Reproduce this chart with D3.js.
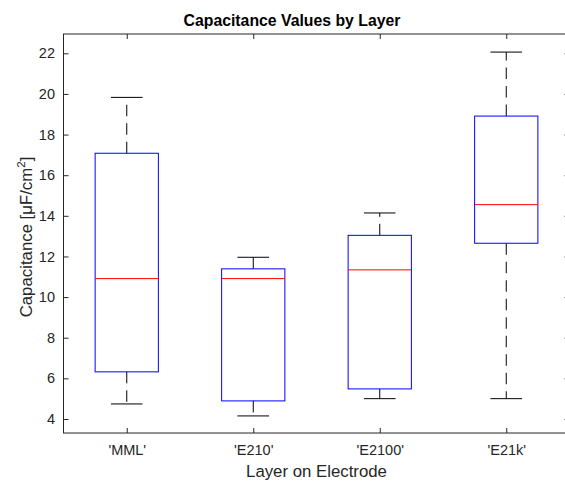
<!DOCTYPE html>
<html>
<head>
<meta charset="utf-8">
<script src="https://cdn.jsdelivr.net/npm/d3@7"></script>
<style>
  body { margin: 0; background: #fff; }
  svg { display: block; font-family: "Liberation Sans", Arial, sans-serif; }
</style>
</head>
<body>
<svg id="chart" width="565" height="482"></svg>
<script>
// box plot stats
var layers      = ["'MML'", "'E210'", "'E2100'", "'E21k'"];
var whiskerLow  = [4.74, 4.15, 5.0, 5.0];
var q1          = [6.32, 4.89, 5.48, 12.65];
var medians     = [10.91, 10.91, 11.34, 14.55];
var q3          = [17.08, 11.39, 13.04, 18.91];
var whiskerHigh = [19.83, 11.96, 14.14, 22.06];
var yTicks      = [4, 6, 8, 10, 12, 14, 16, 18, 20, 22];

var svg = d3.select("#chart"),
    axLeft = 63.5, axRight = 569.5, axTop = 34, axBottom = 433;

var x = d3.scaleLinear().domain([0.5, 4.5]).range([axLeft, axRight]);
var y = d3.scaleLinear().domain([3.31, 22.95]).range([axBottom, axTop]);

var axisColor = "#262626";

var data = layers.map(function(d, i) {
  return { name: d, pos: i + 1, lo: whiskerLow[i], q1: q1[i], med: medians[i], q3: q3[i], hi: whiskerHigh[i] };
});

// axes (ticks pointing inward, MATLAB style)
var gx = svg.append("g")
    .attr("transform", "translate(0," + axBottom + ")")
    .call(d3.axisBottom(x).tickValues([1, 2, 3, 4]).tickSize(-5).tickPadding(12)
      .tickFormat(function(d) { return layers[d - 1]; }));
var gxTop = svg.append("g")
    .attr("transform", "translate(0," + axTop + ")")
    .call(d3.axisTop(x).tickValues([1, 2, 3, 4]).tickSize(-5).tickFormat(""));
var gy = svg.append("g")
    .attr("transform", "translate(" + axLeft + ",0)")
    .call(d3.axisLeft(y).tickValues(yTicks).tickSize(-5).tickPadding(8.5));
var gyRight = svg.append("g")
    .attr("transform", "translate(" + axRight + ",0)")
    .call(d3.axisRight(y).tickValues(yTicks).tickSize(-5).tickFormat(""));

[gx, gxTop, gy, gyRight].forEach(function(g) {
  g.select(".domain").remove();
  g.selectAll(".tick line").attr("stroke", axisColor);
  g.selectAll("text").attr("fill", axisColor).attr("font-size", "14.5px")
    .attr("font-family", "Liberation Sans, Arial, sans-serif");
});

// frame
svg.append("rect")
    .attr("x", axLeft).attr("y", axTop)
    .attr("width", axRight - axLeft).attr("height", axBottom - axTop)
    .attr("fill", "none").attr("stroke", axisColor).attr("stroke-width", 1);

var boxHalf = 0.25, capHalf = 0.125;

var box = svg.append("g").selectAll("g")
  .data(data)
  .enter().append("g");

// whiskers, dashed, drawn from the box edge outward
box.append("line")
    .attr("x1", function(d) { return x(d.pos); })
    .attr("x2", function(d) { return x(d.pos); })
    .attr("y1", function(d) { return y(d.q3); })
    .attr("y2", function(d) { return y(d.hi); })
    .attr("stroke", "#000").attr("stroke-dasharray", "11.5,7");
box.append("line")
    .attr("x1", function(d) { return x(d.pos); })
    .attr("x2", function(d) { return x(d.pos); })
    .attr("y1", function(d) { return y(d.q1); })
    .attr("y2", function(d) { return y(d.lo); })
    .attr("stroke", "#000").attr("stroke-dasharray", "11.5,7");

// caps
["hi", "lo"].forEach(function(k) {
  box.append("line")
      .attr("x1", function(d) { return x(d.pos - capHalf); })
      .attr("x2", function(d) { return x(d.pos + capHalf); })
      .attr("y1", function(d) { return y(d[k]); })
      .attr("y2", function(d) { return y(d[k]); })
      .attr("stroke", "#000");
});

box.append("rect")
    .attr("x", function(d) { return x(d.pos - boxHalf); })
    .attr("width", function(d) { return x(d.pos + boxHalf) - x(d.pos - boxHalf); })
    .attr("y", function(d) { return y(d.q3); })
    .attr("height", function(d) { return y(d.q1) - y(d.q3); })
    .attr("fill", "none").attr("stroke", "#0000ff");

box.append("line")
    .attr("x1", function(d) { return x(d.pos - boxHalf); })
    .attr("x2", function(d) { return x(d.pos + boxHalf); })
    .attr("y1", function(d) { return y(d.med); })
    .attr("y2", function(d) { return y(d.med); })
    .attr("stroke", "#ff0000");

// title and labels
svg.append("text")
    .attr("x", 292).attr("y", 26)
    .attr("text-anchor", "middle")
    .attr("font-size", "15.8px").attr("font-weight", "bold")
    .attr("fill", "#000")
    .text("Capacitance Values by Layer");

svg.append("text")
    .attr("x", (axLeft + axRight) / 2).attr("y", 477)
    .attr("text-anchor", "middle")
    .attr("font-size", "16.8px")
    .attr("fill", axisColor)
    .text("Layer on Electrode");

var yl = svg.append("text")
    .attr("transform", "translate(32,237) rotate(-90)")
    .attr("text-anchor", "middle")
    .attr("font-size", "16.8px")
    .attr("fill", axisColor);
yl.append("tspan").text("Capacitance [\u03bcF/cm");
yl.append("tspan").attr("font-size", "11.5px").attr("dy", "-0.6em").text("2");
yl.append("tspan").attr("dy", "0.4em").text("]");
</script>
</body>
</html>
